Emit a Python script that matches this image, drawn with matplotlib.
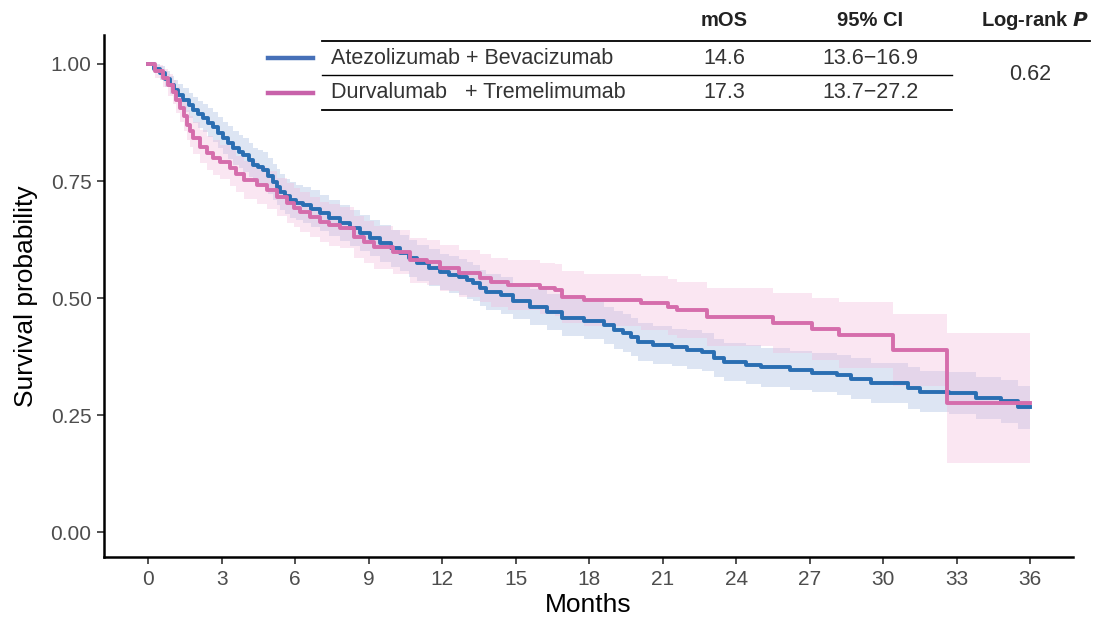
import matplotlib
matplotlib.use("Agg")
import matplotlib.pyplot as plt
from matplotlib.lines import Line2D

plt.rcParams['font.family'] = ['Liberation Sans', 'DejaVu Sans']

# Atezolizumab + Bevacizumab (blue) - KM steps
atezo_t = [0, 0.25, 0.5, 0.7, 0.9, 1.05, 1.2, 1.43, 1.65, 1.84, 2.05, 2.24, 2.45,
           2.65, 2.85, 3.06, 3.25, 3.47, 3.7, 3.88, 4.1, 4.29, 4.5, 4.69, 4.9, 5.1,
           5.25, 5.39, 5.6, 5.8, 6.05, 6.33, 6.65, 7.0, 7.4, 7.84, 8.25, 8.65, 9.05,
           9.47, 9.9, 10.3, 10.65, 10.98, 11.45, 11.9, 12.3, 12.7, 13.0, 13.27,
           13.55, 13.8, 14.4, 14.9, 15.6, 16.3, 16.9, 17.8, 18.6, 19.0, 19.4, 19.7,
           20.0, 20.6, 21.4, 22.0, 22.6, 23.1, 23.5, 24.4, 25.0, 26.2, 27.1, 28.1,
           28.7, 29.5, 31.0, 31.5, 32.7, 33.8, 34.8, 35.5, 36.0]
atezo_s = [1.0, 0.99, 0.981, 0.968, 0.955, 0.944, 0.934, 0.923, 0.912, 0.902,
           0.893, 0.885, 0.875, 0.865, 0.853, 0.842, 0.832, 0.821, 0.813, 0.806,
           0.795, 0.784, 0.779, 0.774, 0.761, 0.748, 0.737, 0.726, 0.717, 0.709,
           0.704, 0.699, 0.691, 0.682, 0.671, 0.66, 0.65, 0.639, 0.628, 0.617,
           0.606, 0.596, 0.585, 0.575, 0.565, 0.556, 0.55, 0.545, 0.538, 0.532,
           0.522, 0.513, 0.506, 0.494, 0.481, 0.47, 0.458, 0.452, 0.442, 0.432,
           0.425, 0.417, 0.406, 0.40, 0.395, 0.39, 0.385, 0.372, 0.363, 0.358,
           0.352, 0.346, 0.341, 0.335, 0.328, 0.318, 0.308, 0.30, 0.297, 0.287,
           0.28, 0.267, 0.267]
atezo_lo = [1.0, 0.98, 0.965, 0.95, 0.935, 0.922, 0.91, 0.897, 0.885, 0.874, 0.864,
            0.855, 0.844, 0.833, 0.82, 0.808, 0.797, 0.785, 0.777, 0.77, 0.758,
            0.747, 0.742, 0.737, 0.723, 0.71, 0.699, 0.688, 0.679, 0.671, 0.666,
            0.66, 0.652, 0.643, 0.632, 0.621, 0.611, 0.6, 0.589, 0.578, 0.567,
            0.557, 0.546, 0.536, 0.526, 0.517, 0.511, 0.506, 0.499, 0.493, 0.483,
            0.474, 0.467, 0.455, 0.442, 0.431, 0.419, 0.412, 0.402, 0.392, 0.385,
            0.377, 0.366, 0.36, 0.355, 0.349, 0.344, 0.331, 0.322, 0.317, 0.31,
            0.304, 0.299, 0.292, 0.285, 0.275, 0.264, 0.256, 0.252, 0.242, 0.234,
            0.22, 0.22]
atezo_hi = [1.0, 1.0, 0.995, 0.985, 0.975, 0.966, 0.958, 0.948, 0.939, 0.93, 0.922,
            0.915, 0.906, 0.897, 0.886, 0.876, 0.867, 0.857, 0.849, 0.842, 0.832,
            0.821, 0.816, 0.811, 0.799, 0.786, 0.775, 0.764, 0.755, 0.747, 0.742,
            0.738, 0.73, 0.721, 0.71, 0.699, 0.689, 0.678, 0.667, 0.656, 0.645,
            0.635, 0.624, 0.614, 0.604, 0.595, 0.589, 0.584, 0.577, 0.571, 0.561,
            0.552, 0.545, 0.533, 0.52, 0.509, 0.497, 0.492, 0.482, 0.472, 0.465,
            0.457, 0.446, 0.44, 0.435, 0.431, 0.426, 0.413, 0.404, 0.399, 0.394,
            0.388, 0.383, 0.378, 0.371, 0.361, 0.352, 0.344, 0.342, 0.332, 0.326,
            0.312, 0.312]

# Durvalumab + Tremelimumab (pink)
durva_t = [0, 0.3, 0.6, 0.8, 1.0, 1.15, 1.3, 1.45, 1.6, 1.72, 1.84, 2.1, 2.4, 2.65,
           2.94, 3.35, 3.6, 3.9, 4.45, 4.86, 5.27, 5.67, 5.95, 6.2, 6.6, 7.0, 7.4,
           7.84, 8.4, 8.8, 9.2, 10.0, 10.7, 11.4, 11.9, 12.7, 13.55, 14.0, 14.7,
           16.0, 16.6, 16.9, 17.8, 20.1, 21.2, 21.6, 22.8, 25.5, 27.1, 28.2, 30.4,
           32.6, 36.0]
durva_s = [1.0, 0.985, 0.97, 0.955, 0.94, 0.923, 0.906, 0.888, 0.87, 0.856, 0.842,
           0.823, 0.81, 0.80, 0.791, 0.778, 0.765, 0.752, 0.741, 0.731, 0.716,
           0.703, 0.693, 0.684, 0.673, 0.662, 0.656, 0.65, 0.63, 0.62, 0.609,
           0.598, 0.581, 0.577, 0.564, 0.553, 0.543, 0.534, 0.528, 0.521, 0.517,
           0.502, 0.496, 0.49, 0.481, 0.474, 0.459, 0.447, 0.434, 0.421, 0.389,
           0.277, 0.277]
durva_lo = [1.0, 0.97, 0.95, 0.932, 0.914, 0.895, 0.876, 0.857, 0.838, 0.823,
            0.808, 0.788, 0.774, 0.763, 0.754, 0.74, 0.726, 0.712, 0.701, 0.69,
            0.675, 0.661, 0.651, 0.642, 0.63, 0.619, 0.612, 0.606, 0.585, 0.575,
            0.563, 0.551, 0.533, 0.529, 0.515, 0.503, 0.492, 0.482, 0.475, 0.467,
            0.462, 0.446, 0.44, 0.432, 0.422, 0.414, 0.397, 0.383, 0.367, 0.351,
            0.312, 0.148, 0.148]
durva_hi = [1.0, 0.998, 0.99, 0.978, 0.966, 0.951, 0.936, 0.919, 0.902, 0.889,
            0.876, 0.858, 0.846, 0.837, 0.828, 0.816, 0.804, 0.792, 0.781, 0.772,
            0.757, 0.745, 0.735, 0.726, 0.716, 0.705, 0.70, 0.694, 0.675, 0.665,
            0.655, 0.645, 0.629, 0.625, 0.613, 0.603, 0.594, 0.586, 0.581, 0.575,
            0.572, 0.558, 0.552, 0.548, 0.54, 0.534, 0.521, 0.511, 0.501, 0.491,
            0.466, 0.425, 0.425]

x_ticks = [0, 3, 6, 9, 12, 15, 18, 21, 24, 27, 30, 33, 36]
y_ticks = [0.0, 0.25, 0.5, 0.75, 1.0]
y_ticklabels = ["0.00", "0.25", "0.50", "0.75", "1.00"]

# table contents
arm_names = ["Atezolizumab + Bevacizumab", "Durvalumab   + Tremelimumab"]
mos_vals = ["14.6", "17.3"]
ci_vals = ["13.6\u221216.9", "13.7\u221227.2"]
p_value = "0.62"

blue = "#2a6eb2"
pink = "#d56dac"
blue_leg = "#4670b8"
pink_leg = "#c862aa"

fig = plt.figure(figsize=(11.03, 6.2), dpi=100)
ax = fig.add_axes([0.0943, 0.1016, 0.8785, 0.842])

ax.fill_between(atezo_t, atezo_lo, atezo_hi, step='post', color="#9fb6dd",
                alpha=0.35, linewidth=0)
ax.fill_between(durva_t, durva_lo, durva_hi, step='post', color="#f2b8dc",
                alpha=0.35, linewidth=0)
ax.step(atezo_t, atezo_s, where='post', color=blue, lw=2.8)
ax.step(durva_t, durva_s, where='post', color=pink, lw=2.8)

ax.set_xlim(-1.8, 37.75)
ax.set_ylim(-0.053, 1.062)
ax.set_xticks(x_ticks)
ax.set_yticks(y_ticks)
ax.set_yticklabels(y_ticklabels)
ax.tick_params(axis='both', labelsize=15, labelcolor="#4d4d4d", color="#333333",
               length=5, width=1.2, pad=4)
ax.set_xlabel("Months", fontsize=19, labelpad=3)
ax.set_ylabel("Survival probability", fontsize=19, labelpad=9)
for s in ["top", "right"]:
    ax.spines[s].set_visible(False)
for s in ["left", "bottom"]:
    ax.spines[s].set_linewidth(1.8)

# table drawn in figure pixel coords
W, H = 1103.0, 620.0
def fx(px):
    return px / W
def fy(py):
    return 1 - py / H

fig.lines.append(Line2D([fx(322), fx(1090)], [fy(41), fy(41)], transform=fig.transFigure, color="black", lw=1.3))
fig.lines.append(Line2D([fx(322), fx(952)], [fy(75), fy(75)], transform=fig.transFigure, color="black", lw=1.0))
fig.lines.append(Line2D([fx(322), fx(952)], [fy(110), fy(110)], transform=fig.transFigure, color="black", lw=1.3))

fig.text(fx(724), fy(20), "mOS", ha='center', va='center', fontsize=14.5,
         fontweight='bold', color="#222222")
fig.text(fx(870), fy(20), "95% CI", ha='center', va='center', fontsize=14.5,
         fontweight='bold', color="#222222")
fig.text(fx(1035), fy(20), "Log-rank $\\bfit{P}$", ha='center', va='center',
         fontsize=14.5, fontweight='bold', color="#222222")

row_y = [58, 93]
leg_cols = [blue_leg, pink_leg]
for i in range(2):
    fig.lines.append(Line2D([fx(268), fx(313)], [fy(row_y[i]), fy(row_y[i])],
                            transform=fig.transFigure, color=leg_cols[i], lw=3.2))
    fig.text(fx(331), fy(row_y[i]), arm_names[i], ha='left', va='center', fontsize=15.5,
             color="#333333")
    fig.text(fx(724), fy(row_y[i]), mos_vals[i], ha='center', va='center', fontsize=15.5,
             color="#333333")
    fig.text(fx(870), fy(row_y[i]), ci_vals[i], ha='center', va='center', fontsize=15.5,
             color="#333333")
fig.text(fx(1030), fy(75), p_value, ha='center', va='center', fontsize=15.5, color="#333333")

fig.savefig("out.png", dpi=100)
